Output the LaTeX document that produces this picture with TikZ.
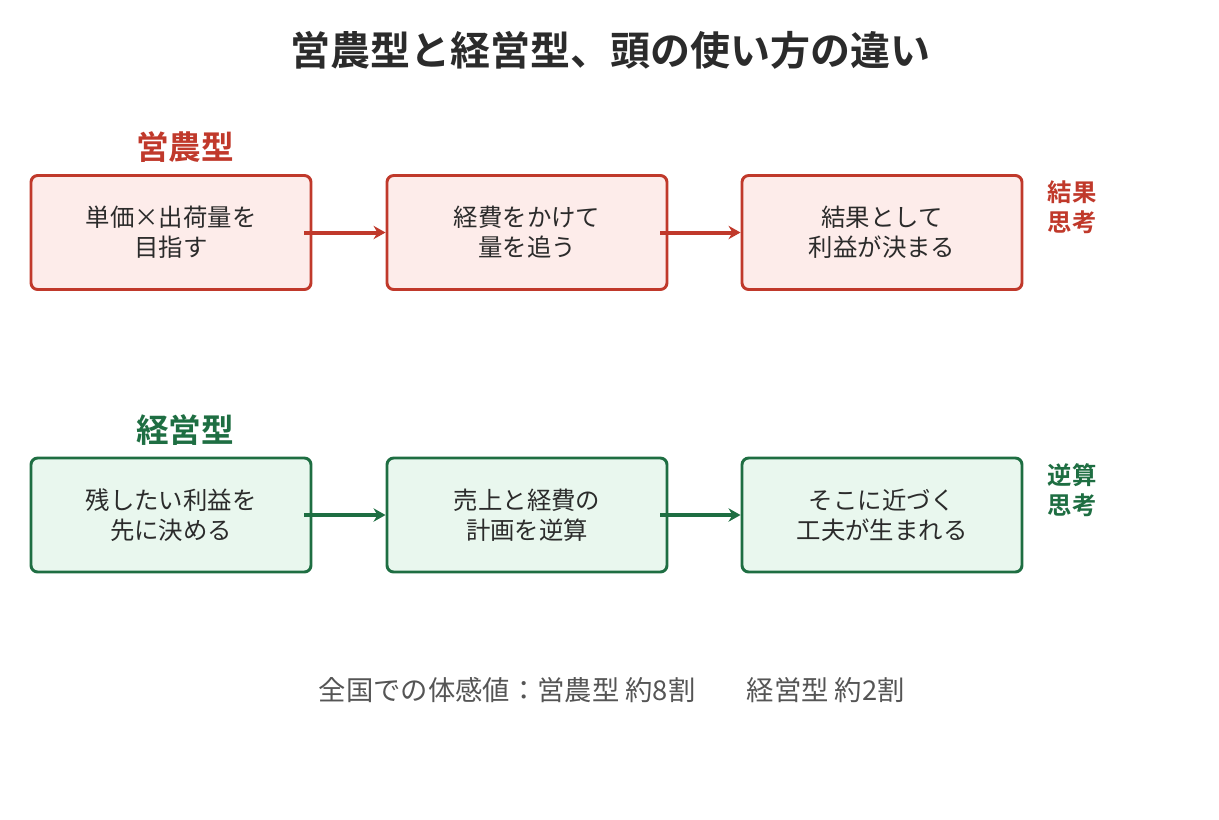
\documentclass[tikz,border=0pt]{standalone}
\usepackage{fontspec}
\setmainfont{Noto Sans CJK JP}
\newfontfamily\jpbold{Noto Sans CJK JP Bold}
\usetikzlibrary{arrows.meta}
\definecolor{redline}{HTML}{C0392B}
\definecolor{redfill}{HTML}{FDECEA}
\definecolor{greenline}{HTML}{1E6E42}
\definecolor{greenfill}{HTML}{E9F7EE}
\definecolor{txt}{HTML}{2B2B2B}
\definecolor{foot}{HTML}{555555}
\tikzset{
  box/.style={draw, line width=2.2pt, rounded corners=5pt, minimum width=210pt, minimum height=85.5pt, align=center, font=\fontsize{18.3pt}{22.5pt}\selectfont, text=txt, inner sep=0pt},
  rbox/.style={box, draw=redline, fill=redfill},
  gbox/.style={box, draw=greenline, fill=greenfill},
  flow/.style={line width=3pt, -{Stealth[length=9pt,width=10pt]}},
  head/.style={font=\jpbold\fontsize{24.5pt}{28pt}\selectfont},
  side/.style={font=\jpbold\fontsize{18.3pt}{22.5pt}\selectfont, align=center},
}
\begin{document}
\begin{tikzpicture}[x=0.75pt,y=-0.75pt]
\useasboundingbox (0,0) rectangle (1219,819);
\node[font=\jpbold\fontsize{30pt}{34pt}\selectfont, text=txt] (title) at (610,50) {営農型と経営型、頭の使い方の違い};

\node[head, text=redline] (h1) at (185,147) {営農型};
\node[rbox] (r1) at (171,232.5) {単価×出荷量を\\目指す};
\node[rbox] (r2) at (527,232.5) {経費をかけて\\量を追う};
\node[rbox] (r3) at (882,232.5) {結果として\\利益が決まる};
\node[side, text=redline] (s1) at (1072,207) {結果\\思考};
\draw[flow, redline] ([xshift=-6pt]r1.east) -- (r2.west);
\draw[flow, redline] ([xshift=-6pt]r2.east) -- (r3.west);

\node[head, text=greenline] (h2) at (185,430) {経営型};
\node[gbox] (g1) at (171,515) {残したい利益を\\先に決める};
\node[gbox] (g2) at (527,515) {売上と経費の\\計画を逆算};
\node[gbox] (g3) at (882,515) {そこに近づく\\工夫が生まれる};
\node[side, text=greenline] (s2) at (1072,490) {逆算\\思考};
\draw[flow, greenline] ([xshift=-6pt]g1.east) -- (g2.west);
\draw[flow, greenline] ([xshift=-6pt]g2.east) -- (g3.west);

\node[font=\fontsize{20.5pt}{24pt}\selectfont, text=foot, anchor=west] (f1) at (314,690) {全国での体感値：営農型 約8割};
\node[font=\fontsize{20.5pt}{24pt}\selectfont, text=foot, anchor=west] (f2) at (742,690) {経営型 約2割};
\end{tikzpicture}
\end{document}
